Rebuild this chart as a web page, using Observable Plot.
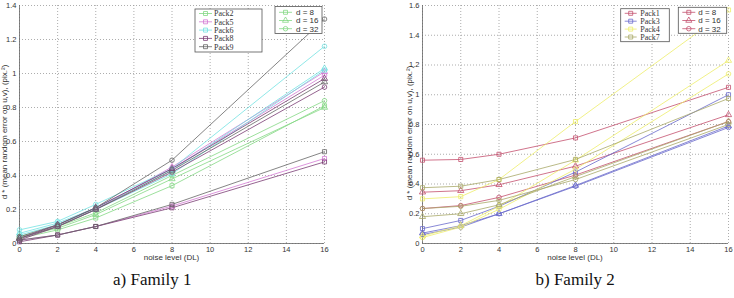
<!DOCTYPE html>
<html>
<head>
<meta charset="utf-8">
<script src="https://cdn.jsdelivr.net/npm/d3@7"></script>
<script src="https://cdn.jsdelivr.net/npm/@observablehq/plot@0.6"></script>
<style>
  body { margin: 0; background: #fff; }
  #page { position: relative; width: 734px; height: 298px; overflow: hidden; background: #fff; }
  .panel { position: absolute; top: 0; }
  .caption { position: absolute; top: 270px; font-family: "Liberation Serif", "Times New Roman", serif; font-size: 17px; color: #111; white-space: nowrap; }
</style>
</head>
<body>
<div id="page"></div>
<script>
// Shared x values (noise level, DL) and window sizes d
const noise = [0, 2, 4, 8, 16];
const dValues = [8, 16, 32];
const dLabels = ["d = 8", "d = 16", "d = 32"];
const dSymbols = ["square", "triangle", "circle"];

// Family 1: one row per d (8, 16, 32), one value per noise level
const family1Packs = ["Pack2", "Pack5", "Pack6", "Pack8", "Pack9"];
const family1Colors = ["#84d884", "#d47ad4", "#74e2e2", "#7a3c74", "#666666"];
const pack2 = [[0.03, 0.08, 0.15, 0.34, 0.81], [0.04, 0.09, 0.17, 0.38, 0.80], [0.04, 0.10, 0.18, 0.40, 0.84]];
const pack5 = [[0.02, 0.05, 0.10, 0.22, 0.50], [0.03, 0.10, 0.20, 0.45, 1.01], [0.03, 0.11, 0.21, 0.44, 0.99]];
const pack6 = [[0.05, 0.11, 0.20, 0.41, 1.02], [0.06, 0.12, 0.21, 0.43, 1.03], [0.08, 0.13, 0.23, 0.44, 1.16]];
const pack8 = [[0.01, 0.05, 0.10, 0.21, 0.48], [0.03, 0.11, 0.21, 0.44, 0.97], [0.02, 0.10, 0.20, 0.42, 0.92]];
const pack9 = [[0.02, 0.05, 0.10, 0.23, 0.54], [0.03, 0.10, 0.20, 0.43, 0.95], [0.04, 0.11, 0.21, 0.49, 1.32]];

// Family 2
const family2Packs = ["Pack1", "Pack3", "Pack4", "Pack7"];
const family2Colors = ["#c4506e", "#6a6acc", "#eeee6a", "#a8a868"];
const pack1 = [[0.56, 0.565, 0.60, 0.71, 1.05], [0.345, 0.355, 0.395, 0.52, 0.865], [0.235, 0.255, 0.31, 0.46, 0.82]];
const pack3 = [[0.10, 0.155, 0.25, 0.48, 1.00], [0.07, 0.12, 0.20, 0.39, 0.79], [0.06, 0.11, 0.20, 0.385, 0.78]];
const pack4 = [[0.30, 0.315, 0.43, 0.82, 1.57], [0.05, 0.12, 0.25, 0.56, 1.23], [0.04, 0.11, 0.23, 0.50, 1.14]];
const pack7 = [[0.375, 0.385, 0.43, 0.565, 0.975], [0.18, 0.20, 0.26, 0.45, 0.82], [0.235, 0.25, 0.29, 0.43, 0.80]];

const xTicks = [0, 2, 4, 6, 8, 10, 12, 14, 16];
const yTicks1 = [0, 0.2, 0.4, 0.6, 0.8, 1, 1.2, 1.4];
const yTicks2 = [0, 0.2, 0.4, 0.6, 0.8, 1, 1.2, 1.4, 1.6];

const yTitle = "d * (mean random error on u,v), (pix.²)";
const xTitle = "noise level (DL)";

function toRows(packs, series) {
  const rows = [];
  packs.forEach((p, i) => series[i].forEach((vals, j) => vals.forEach((v, k) =>
    rows.push({pack: p, d: dValues[j], key: p + "/" + dValues[j], x: noise[k], y: v}))));
  return rows;
}

const sans = "'Liberation Sans', Arial, sans-serif";
const serif = "'Liberation Serif', 'Times New Roman', serif";

function drawPanel(o) {
  const rows = toRows(o.packs, o.series);
  const chart = Plot.plot({
    width: o.width, height: 265,
    marginLeft: o.marginLeft, marginRight: o.marginRight, marginTop: 5, marginBottom: 22,
    style: {fontFamily: sans, fontSize: "7.5px", color: "#333", background: "transparent", overflow: "visible"},
    x: {domain: [0, 16], ticks: xTicks, tickSize: 0, tickPadding: 3, label: null},
    y: {domain: [0, o.yTicks[o.yTicks.length - 1]], ticks: o.yTicks, tickSize: 0, tickPadding: 3,
        tickFormat: d => String(+d.toFixed(1)), label: null},
    color: {domain: o.packs, range: o.colors},
    symbol: {domain: dValues, range: dSymbols},
    marks: [
      Plot.gridX(xTicks, {stroke: "#999", strokeOpacity: 0.8, strokeDasharray: "1,2"}),
      Plot.gridY(o.yTicks, {stroke: "#999", strokeOpacity: 0.8, strokeDasharray: "1,2"}),
      Plot.ruleX([0], {stroke: "#666", strokeWidth: 0.8}),
      Plot.ruleY([0], {stroke: "#666", strokeWidth: 0.8}),
      Plot.line(rows, {x: "x", y: "y", z: "key", stroke: "pack", strokeWidth: 0.8}),
      Plot.dot(rows, {x: "x", y: "y", stroke: "pack", symbol: "d", r: 2.3, strokeWidth: 0.8, fill: "none"})
    ]
  });
  chart.classList.add("panel");
  chart.style.left = o.left + "px";

  const svg = d3.select(chart);
  const cx = (o.marginLeft + o.width - o.marginRight) / 2;
  svg.append("text").attr("x", cx).attr("y", 260).attr("text-anchor", "middle")
    .attr("font-family", sans).attr("font-size", 8).attr("fill", "#333").text(xTitle);
  svg.append("text").attr("transform", `translate(${o.yTitleX},${o.yTitleY}) rotate(-90)`)
    .attr("text-anchor", "middle").attr("font-family", sans).attr("font-size", 8).attr("fill", "#333").text(yTitle);

  legend(svg, o.packBox, o.packs.map((p, i) => ({label: p, color: o.colors[i], symbol: "square"})), serif, 8);
  legend(svg, o.dBox, dLabels.map((l, i) => ({label: l, color: o.dColor, symbol: dSymbols[i]})), sans, 8);
  return chart;
}

const symbolTypes = {square: d3.symbolSquare, triangle: d3.symbolTriangle, circle: d3.symbolCircle};

function legend(svg, box, entries, font, size) {
  const g = svg.append("g").attr("text-anchor", "start");
  g.append("rect").attr("x", box.x).attr("y", box.y).attr("width", box.w).attr("height", box.h)
    .attr("fill", "#fff").attr("stroke", "#555").attr("stroke-width", 0.8);
  entries.forEach((e, i) => {
    const y = box.y + box.first + i * box.step;
    g.append("line").attr("x1", box.x + box.lineX0).attr("x2", box.x + box.lineX1)
      .attr("y1", y).attr("y2", y).attr("stroke", e.color).attr("stroke-width", 0.8);
    g.append("path").attr("d", d3.symbol(symbolTypes[e.symbol], 16)())
      .attr("transform", `translate(${box.x + (box.lineX0 + box.lineX1) / 2},${y})`)
      .attr("fill", "none").attr("stroke", e.color).attr("stroke-width", 0.8);
    g.append("text").attr("x", box.x + box.textX).attr("y", y).attr("dy", "0.35em")
      .attr("font-family", font).attr("font-size", size).attr("fill", "#333").text(e.label);
  });
}

const page = document.getElementById("page");

page.appendChild(drawPanel({
  packs: family1Packs, colors: family1Colors, series: [pack2, pack5, pack6, pack8, pack9],
  yTicks: yTicks1, left: 0, width: 345, marginLeft: 19, marginRight: 21,
  yTitleX: 7, yTitleY: 132, dColor: family1Colors[0],
  packBox: {x: 195, y: 9, w: 67, h: 43, first: 4.5, step: 8.3, lineX0: 4, lineX1: 17, textX: 19},
  dBox: {x: 275, y: 6.5, w: 47, h: 27, first: 5.8, step: 8.2, lineX0: 4, lineX1: 17, textX: 21}
}));

page.appendChild(drawPanel({
  packs: family2Packs, colors: family2Colors, series: [pack1, pack3, pack4, pack7],
  yTicks: yTicks2, left: 370, width: 364, marginLeft: 52, marginRight: 6,
  yTitleX: 41.5, yTitleY: 133, dColor: family2Colors[0],
  packBox: {x: 250.7, y: 8.7, w: 48.6, h: 33, first: 4.6, step: 7.9, lineX0: 4, lineX1: 16, textX: 19.5},
  dBox: {x: 308.3, y: 7.3, w: 48.4, h: 26, first: 5, step: 8.2, lineX0: 4, lineX1: 17, textX: 20}
}));

// Panel captions
[["a) Family 1", 152], ["b) Family 2", 575]].forEach(([t, cx]) => {
  const div = document.createElement("div");
  div.className = "caption";
  div.textContent = t;
  page.appendChild(div);
  div.style.left = (cx - div.offsetWidth / 2) + "px";
});
</script>
</body>
</html>
